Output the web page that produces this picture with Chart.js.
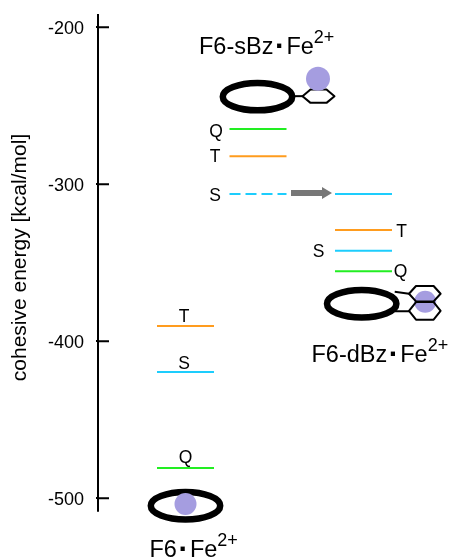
<!DOCTYPE html>
<html>
<head>
<meta charset="utf-8">
<style>html,body{margin:0;padding:0;background:#fff}canvas{display:block}</style>
<script src="https://cdn.jsdelivr.net/npm/chart.js@4"></script>
</head>
<body>
<canvas id="c" width="449" height="558"></canvas>
<script>
// Data: energies in kcal/mol
const complexes = ['F6·Fe', 'F6-sBz·Fe', 'F6-dBz·Fe'];
const states = ['Q', 'T', 'S'];
const f6Levels = [-480.8, -390.3, -419.6];
const sBzLevels = [-264.8, -282.2, -306.2];
const dBzLevels = [-355.4, -329.1, -342.3];
const dBzShiftedS = [-306.2];
const yTicks = [-200, -300, -400, -500];
const yTitle = 'cohesive energy [kcal/mol]';
// x layout in arbitrary units
const columnCentres = [8.75, 16, 26.55];
const levelWidth = 5.7;
const axisEnds = [-191.5, -508.7];

const stateColours = {Q: '#22ee22', T: '#ff9c1e', S: '#1dcdfd'};
const font = '"Liberation Sans", Arial, sans-serif';

function level(col, stateIdx, value, dash) {
  const c = columnCentres[col];
  return {
    label: complexes[col] + ' ' + states[stateIdx],
    data: [{x: c - levelWidth / 2, y: value}, {x: c + levelWidth / 2, y: value}],
    borderColor: stateColours[states[stateIdx]],
    borderWidth: 2,
    borderDash: dash || [],
    pointRadius: 0,
    showLine: true,
    fill: false,
    tension: 0
  };
}
const datasets = [];
[f6Levels, sBzLevels, dBzLevels].forEach((arr, col) => {
  arr.forEach((v, i) => datasets.push(level(col, i, v, (col === 1 && states[i] === 'S') ? [11, 5] : null)));
});
datasets.push(level(2, 2, dBzShiftedS[0]));

const decor = {
  id: 'decor',
  beforeDraw(chart) {
    // tick labels sit slightly below their ticks in the reference
    const s = chart.scales.y;
    if (!s._labelsShifted) {
      s.getLabelItems(chart.chartArea).forEach(it => { it.options.translation[1] += 2; });
      s._labelsShifted = true;
    }
  },
  afterDatasetsDraw(chart) {
    const {ctx, scales: {x, y}} = chart;
    const X = i => x.getPixelForValue(columnCentres[i]);
    const axisX = chart.chartArea.left;
    ctx.save();

    // axis line and right half of ticks
    ctx.strokeStyle = '#000';
    ctx.lineWidth = 2;
    ctx.beginPath();
    ctx.moveTo(axisX, y.getPixelForValue(axisEnds[0]));
    ctx.lineTo(axisX, y.getPixelForValue(axisEnds[1]));
    yTicks.forEach(t => {
      const p = y.getPixelForValue(t);
      ctx.moveTo(axisX, p);
      ctx.lineTo(axisX + 11, p);
    });
    ctx.stroke();

    // arrow between S levels
    const ay = y.getPixelForValue(dBzShiftedS[0]) - 1;
    const ax0 = X(1) + 33, ax1 = X(1) + 74;
    ctx.fillStyle = '#777';
    ctx.beginPath();
    ctx.moveTo(ax0, ay - 3); ctx.lineTo(ax1 - 10, ay - 3); ctx.lineTo(ax1 - 10, ay - 6);
    ctx.lineTo(ax1, ay); ctx.lineTo(ax1 - 10, ay + 6); ctx.lineTo(ax1 - 10, ay + 3);
    ctx.lineTo(ax0, ay + 3); ctx.closePath(); ctx.fill();

    const purple = '#a59de0';
    const ring = (cx, cy) => {
      ctx.strokeStyle = '#000'; ctx.lineWidth = 6.5;
      ctx.beginPath(); ctx.ellipse(cx, cy, 34.7, 13.7, 0, 0, Math.PI * 2); ctx.stroke();
    };
    const disc = (cx, cy, r) => {
      ctx.fillStyle = purple;
      ctx.beginPath(); ctx.arc(cx, cy, r, 0, Math.PI * 2); ctx.fill();
    };
    const hex = (cx, cy, hw, inset, hh) => {
      ctx.strokeStyle = '#000'; ctx.lineWidth = 2;
      ctx.lineJoin = 'round';
      ctx.beginPath();
      ctx.moveTo(cx - hw, cy); ctx.lineTo(cx - hw + inset, cy - hh); ctx.lineTo(cx + hw - inset, cy - hh);
      ctx.lineTo(cx + hw, cy); ctx.lineTo(cx + hw - inset, cy + hh); ctx.lineTo(cx - hw + inset, cy + hh);
      ctx.closePath(); ctx.stroke();
    };
    const seg = (a, b, c, d) => {
      ctx.strokeStyle = '#000'; ctx.lineWidth = 2;
      ctx.beginPath(); ctx.moveTo(a, b); ctx.lineTo(c, d); ctx.stroke();
    };

    // F6
    const r0x = X(0), r0y = y.getPixelForValue(-504.8);
    ring(r0x, r0y);
    disc(r0x, r0y - 1.7, 11);

    // F6-sBz
    const r1x = X(1) - 0.5, r1y = y.getPixelForValue(-244.2);
    ring(r1x, r1y);
    seg(r1x + 36, r1y - 0.5, r1x + 46, r1y - 0.5);
    hex(r1x + 61, r1y - 0.5, 16, 8, 6.7);
    disc(r1x + 60.5, r1y - 18, 12);

    // F6-dBz
    const r2x = X(2) - 1.8, r2y = y.getPixelForValue(-376.1);
    disc(r2x + 63.5, r2y - 2, 11);
    seg(r2x + 33, r2y - 12, r2x + 47.3, r2y - 10);
    seg(r2x + 33, r2y + 7.5, r2x + 47.3, r2y + 7.6);
    ring(r2x, r2y);
    hex(r2x + 63.1, r2y - 10, 15.8, 7, 7.7);
    hex(r2x + 63.1, r2y + 7.2, 15.8, 7, 8.8);

    // level letters
    ctx.fillStyle = '#000';
    ctx.font = '17.5px ' + font;
    ctx.textBaseline = 'alphabetic';
    ctx.textAlign = 'center';
    const letter = (s, px, v, dy) => ctx.fillText(s, px, y.getPixelForValue(v) + dy);
    letter('Q', r0x, f6Levels[0], -5);
    letter('T', r0x - 1.5, f6Levels[1], -4);
    letter('S', r0x - 1.5, f6Levels[2], -3);
    const lx = X(1) - 42;
    letter('Q', lx, sBzLevels[0], 8);
    letter('T', lx - 1, sBzLevels[1], 6);
    letter('S', lx - 1, sBzLevels[2], 7);
    const rx = X(2) + 38;
    letter('T', rx, dBzLevels[1], 7);
    letter('Q', rx - 1, dBzLevels[0], 6);
    letter('S', X(2) - 45, dBzLevels[2], 6);

    // complex names
    const name = (base, px, py) => {
      ctx.textAlign = 'left';
      ctx.font = '23.5px ' + font;
      const parts = base.split('·');
      ctx.fillText(parts[0], px, py);
      const end = px + ctx.measureText(parts[0]).width;
      ctx.font = 'bold 30px ' + font;
      ctx.fillText('·', end + 1.5, py + 2);
      ctx.font = '23.5px ' + font;
      ctx.fillText(parts[1], end + 13, py);
      const cx = end + 13 + ctx.measureText(parts[1]).width;
      ctx.font = '18px ' + font;
      ctx.fillText('2+', cx, py - 11);
    };
    name(complexes[0], r0x - 36, 556.5);
    name(complexes[1], X(1) - 59, 54);
    name(complexes[2], X(2) - 52, 361.5);
    ctx.restore();
  }
};

new Chart(document.getElementById('c'), {
  type: 'scatter',
  data: {datasets},
  plugins: [decor],
  options: {
    responsive: false,
    animation: false,
    events: [],
    layout: {padding: {top: 2, bottom: 45, left: 8, right: 0}},
    plugins: {legend: {display: false}, tooltip: {enabled: false}, title: {display: false}},
    scales: {
      x: {type: 'linear', display: false, min: 0, max: 35.1},
      y: {
        type: 'linear',
        min: -509.43,
        max: -183.89,
        afterFit(s) { s.width = 90; s.paddingTop = 0; s.paddingBottom = 0; },
        afterBuildTicks(s) { s.ticks = yTicks.map(v => ({value: v})); },
        border: {display: false},
        grid: {drawOnChartArea: false, drawTicks: true, tickLength: 2, color: '#000', lineWidth: 2},
        ticks: {color: '#000', padding: 12, font: {family: font, size: 18}, callback: v => String(v)},
        title: {display: true, text: yTitle, color: '#000', padding: 0, font: {family: font, size: 21}}
      }
    }
  }
});
</script>
</body>
</html>
